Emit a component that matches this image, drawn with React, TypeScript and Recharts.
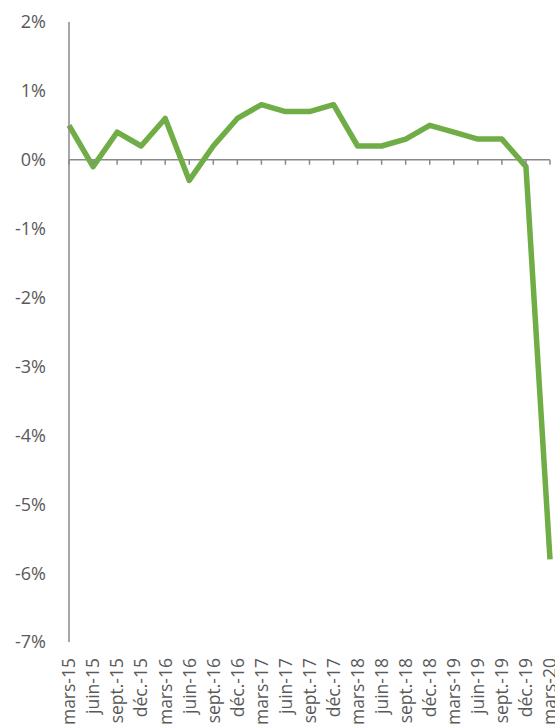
import React from "react";
import {
  LineChart,
  Line,
  XAxis,
  YAxis,
  ReferenceLine,
  ReferenceDot,
} from "recharts";

const quarters = [
  "mars-15", "juin-15", "sept.-15", "déc.-15",
  "mars-16", "juin-16", "sept.-16", "déc.-16",
  "mars-17", "juin-17", "sept.-17", "déc.-17",
  "mars-18", "juin-18", "sept.-18", "déc.-18",
  "mars-19", "juin-19", "sept.-19", "déc.-19",
  "mars-20",
];
const growth = [
  0.5, -0.1, 0.4, 0.2,
  0.6, -0.3, 0.2, 0.6,
  0.8, 0.7, 0.7, 0.8,
  0.2, 0.2, 0.3, 0.5,
  0.4, 0.3, 0.3, -0.1,
  -5.8,
];
const yTicks = [-7, -6, -5, -4, -3, -2, -1, 0, 1, 2];

const data = quarters.map((q, i) => ({ q, v: growth[i] }));

const AXIS = "#898989";
const TEXT = "#595959";
const FONT = "'Open Sans', sans-serif";

// rotated quarter labels, read bottom-to-top, centred on the tick
const QuarterTick = (props: any) => {
  const { x, y, payload } = props;
  return (
    <text
      transform={`translate(${x},${y + 14}) rotate(-90)`}
      textAnchor="end"
      dy="0.36em"
      fill={TEXT}
      fontSize={17.5}
      fontFamily={FONT}
    >
      {payload.value}
    </text>
  );
};

const TickMark = (props: any) => (
  <line
    x1={props.cx}
    y1={props.cy}
    x2={props.cx}
    y2={props.cy + 5}
    stroke={AXIS}
    strokeWidth={1.5}
  />
);

export default function App() {
  return (
    <div style={{ width: 547, height: 719 }}>
      <style>{"html { overflow: hidden; } body { margin: 8px 0 0 8px; }"}</style>
      <LineChart
        width={547}
        height={719}
        data={data}
        margin={{ top: 14, right: 5, left: 0, bottom: 0 }}
      >
        <XAxis
          dataKey="q"
          interval={0}
          height={85}
          axisLine={false}
          tickLine={false}
          tickSize={0}
          tick={<QuarterTick />}
        />
        <YAxis
          domain={[-7, 2]}
          ticks={yTicks}
          width={61}
          interval={0}
          tickFormatter={(v: number) => `${v}%`}
          axisLine={{ stroke: AXIS, strokeWidth: 1.5 }}
          tickLine={false}
          tickSize={0}
          tickMargin={23}
          tick={{ fill: TEXT, fontSize: 18, fontFamily: FONT }}
        />
        <ReferenceLine y={0} stroke={AXIS} strokeWidth={1.5} />
        {quarters.map((q) => (
          <ReferenceDot key={q} x={q} y={0} shape={TickMark} />
        ))}
        <Line
          type="linear"
          dataKey="v"
          stroke="#70AD47"
          strokeWidth={5.5}
          strokeLinejoin="round"
          dot={false}
          isAnimationActive={false}
        />
      </LineChart>
    </div>
  );
}
